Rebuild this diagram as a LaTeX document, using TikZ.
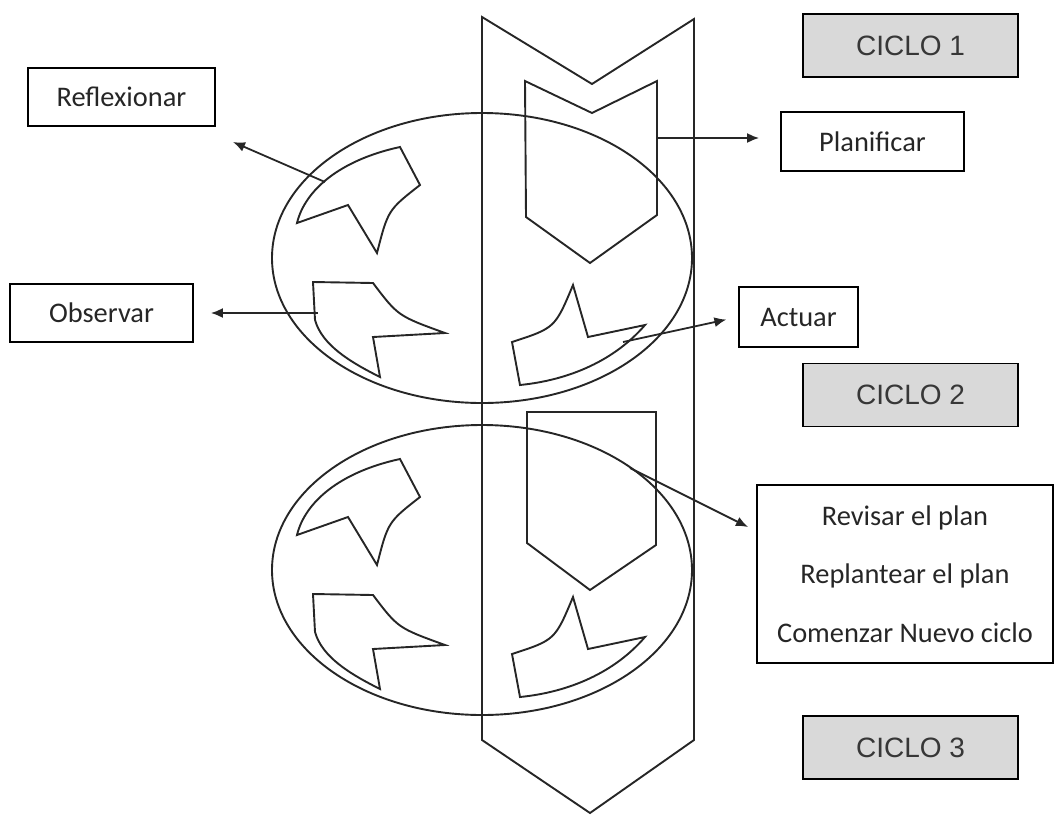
\documentclass[tikz,border=0pt]{standalone}
\usepackage{fontspec}
\setmainfont{Carlito}
\newfontfamily\arialfont{Liberation Sans}
\usetikzlibrary{arrows.meta}
\definecolor{grisciclo}{RGB}{217,217,217}
\definecolor{textociclo}{RGB}{55,55,55}

\tikzset{
	caja/.style={draw,line width=0.9pt,inner sep=0pt,text=black!85,
		font=\fontsize{14.2}{17}\selectfont},
	ciclo/.style={caja,fill=grisciclo,minimum width=107.5pt,minimum height=31.5pt,
		text=textociclo,font=\arialfont\fontsize{14}{17}\selectfont},
	trazo/.style={line width=0.95pt,draw=black!85,line join=miter},
	flecha/.style={-{Latex[length=6pt,width=5pt]},line width=0.9pt,draw=black!85}
}

\begin{document}
\begin{tikzpicture}[x=0.5pt,y=-0.5pt]
	\useasboundingbox (0,0) rectangle (1055,815);

	% flecha grande
	\draw[trazo] (482,17) -- (592,84) -- (694,19) -- (694,740) -- (590,813) -- (482,740) -- cycle;

	% los dos ciclos con sus hojas
	\foreach \cy in {258,570}{
		\begin{scope}[shift={(482,\cy)}]
			\draw[trazo] (0,0) ellipse (210 and 145);
			\draw[trazo] (-185,-35) -- (-134,-53) -- (-105,-5) .. controls (-94,-48) .. (-62,-73)
				-- (-82,-111) .. controls (-142,-98) and (-177,-68) .. cycle;
			\draw[trazo] (-169,24) -- (-109,25) .. controls (-84,58) .. (-37,75) -- (-109,79)
				-- (-102,119) .. controls (-132,104) and (-160,87) .. (-167,62) -- cycle;
			\draw[trazo] (91,27) -- (106,79) -- (163,67) .. controls (133,102) and (88,122) .. (38,127)
				-- (30,84) .. controls (73,70) .. cycle;
		\end{scope}
	}
	\draw[trazo] (525,81) -- (592,113) -- (657,81) -- (657,215) -- (590,263) -- (526,217) -- cycle;
	\draw[trazo] (527,412) -- (656,412) -- (656,545) -- (590,590) -- (527,543) -- cycle;

	% cajas
	\node[caja,minimum width=93.5pt,minimum height=29pt] (refl) at (121.5,97) {Reflexionar};
	\node[caja,minimum width=91.5pt,minimum height=29pt] (obs) at (101.5,313) {Observar};
	\node[caja,minimum width=91.5pt,minimum height=29.5pt] (plan) at (872.5,141.5) {Planificar};
	\node[caja,minimum width=59.5pt,minimum height=30pt] (act) at (798.5,317) {Actuar};
	\node[caja,minimum width=148pt,minimum height=89pt,align=center,
		font=\fontsize{14.2}{29.25}\selectfont] (rev) at (905,574)
		{Revisar el plan\\Replantear el plan\\Comenzar Nuevo ciclo};
	\node[ciclo] (c1) at (910.5,45.5) {CICLO 1};
	\node[ciclo] (c2) at (910.5,395) {CICLO 2};
	\node[ciclo] (c3) at (910.5,747.5) {CICLO 3};

	% flechas
	\coordinate (r1) at (325,182);
	\coordinate (r2) at (233,142);
	\coordinate (o1) at (318,313);
	\coordinate (p1) at (657,138);
	\coordinate (a1) at (623,342);
	\coordinate (v1) at (630,468);
	\coordinate (v2) at (748,527);
	\draw[flecha] (r1) -- (r2);
	\draw[flecha,shorten >=8.5pt] (o1) -- (obs.east);
	\draw[flecha,shorten >=10.5pt] (p1) -- (p1 -| plan.west);
	\draw[flecha,shorten >=6pt] (a1) -- (act.west);
	\draw[flecha] (v1) -- (v2);
\end{tikzpicture}
\end{document}
